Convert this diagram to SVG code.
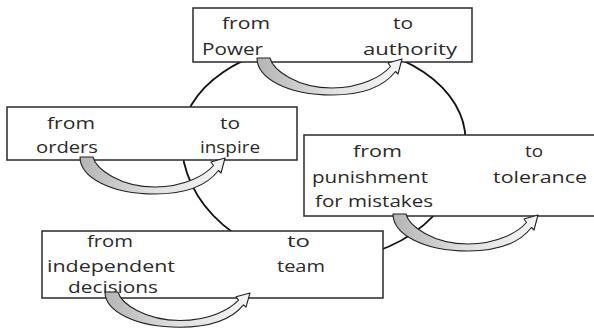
<svg xmlns="http://www.w3.org/2000/svg" xmlns:xlink="http://www.w3.org/1999/xlink" width="594" height="328" viewBox="0 0 594 328">
<style>
.box{fill:#fff;stroke:#2a2a2a;stroke-width:1.5}
.t{font-family:"Open Sans","DejaVu Sans",sans-serif;font-size:16px;fill:#2a2a2a}
.loop{fill:none;stroke:#111;stroke-width:1.8}
.arr{fill:url(#g);stroke:#222;stroke-width:1.1;stroke-linejoin:round}
</style>
<defs>
<linearGradient id="g" x1="0" y1="0" x2="1" y2="0">
<stop offset="0" stop-color="#b4b4b4"/>
<stop offset="0.5" stop-color="#e0e0e0"/>
<stop offset="1" stop-color="#f4f4f4"/>
</linearGradient>
<path id="arw" d="M0,0 L13,0 C16,12 40,30 75,30 C105,30 125,18 133.5,8.5 L131,5 L145,1 L141,16 L138.5,13.5 C128,27 108,37 75,37 C30,37 0,20 0,0 Z"/>
</defs>
<rect width="594" height="328" fill="#fff"/>
<g id="cycle">
<path class="loop" d="M181.5,140 A142,96 0 0 1 465.5,140 A142,120 0 0 1 181.5,140 Z"/>
</g>
<g id="node-power">
<rect class="box" x="193" y="8" width="279" height="54"/>
<text class="t" x="222" y="29" textLength="48" lengthAdjust="spacingAndGlyphs">from</text>
<text class="t" x="393" y="29" textLength="20" lengthAdjust="spacingAndGlyphs">to</text>
<text class="t" x="202" y="55" textLength="61" lengthAdjust="spacingAndGlyphs">Power</text>
<text class="t" x="363" y="55" textLength="94" lengthAdjust="spacingAndGlyphs">authority</text>
</g>
<g id="node-orders">
<rect class="box" x="7" y="107" width="290" height="53"/>
<text class="t" x="47" y="129" textLength="48" lengthAdjust="spacingAndGlyphs">from</text>
<text class="t" x="220" y="129" textLength="20" lengthAdjust="spacingAndGlyphs">to</text>
<text class="t" x="36" y="153" textLength="62" lengthAdjust="spacingAndGlyphs">orders</text>
<text class="t" x="200" y="153" textLength="60" lengthAdjust="spacingAndGlyphs">inspire</text>
</g>
<g id="node-punishment">
<rect class="box" x="304" y="135" width="300" height="81"/>
<text class="t" x="353" y="157" textLength="49" lengthAdjust="spacingAndGlyphs">from</text>
<text class="t" x="525" y="157" textLength="18" lengthAdjust="spacingAndGlyphs">to</text>
<text class="t" x="312" y="183" textLength="116" lengthAdjust="spacingAndGlyphs">punishment</text>
<text class="t" x="493" y="183" textLength="94" lengthAdjust="spacingAndGlyphs">tolerance</text>
<text class="t" x="315" y="207" textLength="118" lengthAdjust="spacingAndGlyphs">for mistakes</text>
</g>
<g id="node-decisions">
<rect class="box" x="42" y="231" width="341" height="67"/>
<text class="t" x="87" y="247" textLength="46" lengthAdjust="spacingAndGlyphs">from</text>
<text class="t" x="287" y="247" textLength="23" lengthAdjust="spacingAndGlyphs">to</text>
<text class="t" x="47" y="272" textLength="128" lengthAdjust="spacingAndGlyphs">independent</text>
<text class="t" x="277" y="272" textLength="48" lengthAdjust="spacingAndGlyphs">team</text>
<text class="t" x="68" y="293" textLength="90" lengthAdjust="spacingAndGlyphs">decisions</text>
</g>
<g id="connectors">
<use class="arr" href="#arw" xlink:href="#arw" transform="translate(257,58)"/>
<use class="arr" href="#arw" xlink:href="#arw" transform="translate(80,157)"/>
<use class="arr" href="#arw" xlink:href="#arw" transform="translate(393,214)"/>
<use class="arr" href="#arw" xlink:href="#arw" transform="translate(105,292) scale(1,0.95)"/>
</g>
</svg>
